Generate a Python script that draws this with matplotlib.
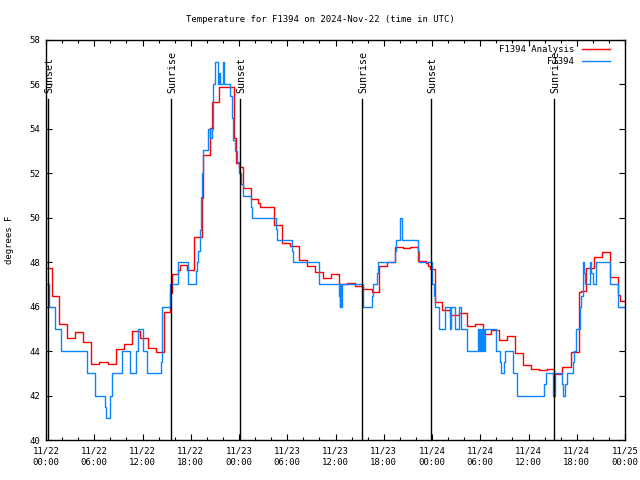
import matplotlib
matplotlib.use('Agg')
import matplotlib.pyplot as plt
from matplotlib.ticker import MultipleLocator

# hours since 2024-11-22 00:00 UTC, value holds until next hour (step post)
analysis_hours = [0.15, 0.7, 1.65, 2.65, 3.65, 4.65, 5.65, 6.65, 7.65, 8.65, 9.65, 10.65,
                  11.65, 12.65, 13.65, 14.65, 15.42, 15.65, 16.45, 16.65, 17.5, 18.45,
                  19.36, 19.56, 20.4, 20.6, 21.55, 23.42, 23.6, 24.0, 24.5, 25.5, 26.4,
                  26.6, 28.4, 29.4, 30.4, 31.4, 32.4, 33.4, 34.4, 35.4, 36.4, 37.46,
                  38.46, 39.4, 40.5, 41.45, 42.4, 43.4, 44.4, 45.3, 46.3, 47.3, 47.5,
                  47.75, 48.4, 49.3, 50.3, 51.3, 52.3, 53.3, 54.3, 55.3, 56.3, 57.3,
                  58.3, 59.3, 60.3, 61.3, 62.3, 63.17, 64.16, 65.24, 66.24, 66.5, 67.15,
                  68.14, 69.14, 70.13, 71.13, 71.4, 71.95]
analysis_temps = [47.72, 46.5, 45.2, 44.6, 44.85, 44.4, 43.42, 43.5, 43.42, 44.08, 44.3, 44.9,
                  44.58, 44.12, 43.96, 45.76, 46.6, 47.47, 47.65, 47.88, 47.63, 49.15,
                  50.88, 52.83, 54.03, 55.23, 55.9, 53.6, 52.45, 52.3, 51.33, 50.85, 50.65,
                  50.47, 49.66, 48.85, 48.74, 48.1, 47.82, 47.58, 47.3, 47.47, 47.0, 47.05,
                  46.93, 46.78, 46.68, 47.83, 48.0, 48.67, 48.62, 48.67, 48.06, 47.98, 47.83,
                  47.68, 46.2, 45.85, 45.63, 45.7, 45.13, 45.2, 44.75, 44.95, 44.5, 44.7,
                  43.9, 43.38, 43.18, 43.15, 43.2, 42.97, 43.27, 43.98, 46.68, 46.7, 47.72,
                  48.22, 48.48, 47.32, 46.53, 46.27, 46.27]

obs_hours = [0.15, 0.37, 1.16, 1.9, 5.1, 6.1, 7.3, 7.5, 7.9, 8.2, 9.4, 10.5, 11.15, 11.5,
             12.0, 12.6, 14.3, 14.45, 15.4, 16.45, 17.7, 18.65, 18.8, 18.95, 19.1, 19.23,
             19.4, 19.56, 20.2, 20.45, 20.6, 20.8, 21.0, 21.35, 21.55, 21.68, 21.97, 22.13,
             22.88, 23.09, 23.2, 23.5, 23.7, 24.0, 24.25, 24.46, 25.5, 25.66, 28.56, 28.68,
             30.63, 30.76, 33.9, 33.98, 36.47, 36.56, 36.62, 36.67, 36.77, 39.38, 39.46,
             40.58, 40.7, 41.2, 41.3, 43.4, 43.48, 44.0, 44.3, 46.3, 46.4, 47.96, 48.3,
             48.4, 48.9, 49.66, 50.28, 50.4, 50.9, 51.4, 51.65, 52.35, 53.76, 53.85, 53.95,
             54.05, 54.2, 54.3, 54.4, 54.5, 54.59, 55.96, 56.45, 56.58, 56.95, 57.07, 58.1,
             58.6, 61.96, 62.13, 63.0, 63.3, 64.12, 64.25, 64.54, 64.74, 65.57, 65.7, 65.86,
             65.9, 66.4, 66.53, 66.74, 66.8, 66.9, 67.0, 67.64, 67.77, 67.98, 68.4, 70.13,
             71.13, 71.95]
obs_temps = [47, 46, 45, 44, 43, 42, 41.5, 41, 42, 43, 44, 43, 44, 45,
             44, 43, 43.5, 46, 47, 48, 47, 47.6, 48, 48.5, 49.45, 50.95,
             52, 53.05, 54, 53.6, 54, 56, 57, 56, 56.5, 56, 57, 56,
             55.5, 54.5, 53.5, 53, 52.5, 52, 51.5, 51, 50.5, 50, 49.5, 49,
             48.5, 48, 47.5, 47, 46.5, 46, 47, 46, 47, 46.5, 46,
             46.5, 47, 47.5, 48, 48.5, 49, 50, 49, 48.5, 48, 47, 46.5,
             46, 45, 46, 45, 46, 45, 46, 45, 44, 45, 44, 45,
             44, 45, 44, 45, 44, 45, 44, 43.5, 43, 43.5, 44, 43,
             42, 42.5, 43, 42, 43, 42.5, 42, 42.5, 43, 43.5, 44, 44.5,
             45, 46, 46.5, 47.5, 48, 47.5, 47, 48, 47.5, 47, 48, 47,
             46, 46]

sunset_hours = [0.25, 24.12, 47.87]
sunrise_hours = [15.54, 39.29, 63.17]

tick_hours = list(range(0, 73, 6))
tick_labels = ['11/22\n00:00', '11/22\n06:00', '11/22\n12:00', '11/22\n18:00',
               '11/23\n00:00', '11/23\n06:00', '11/23\n12:00', '11/23\n18:00',
               '11/24\n00:00', '11/24\n06:00', '11/24\n12:00', '11/24\n18:00',
               '11/25\n00:00']

plt.rcParams['font.family'] = ['DejaVu Sans Mono']
fs = 6.5

fig = plt.figure(figsize=(6.4, 4.8), dpi=100)
ax = fig.add_axes([46 / 640, 40 / 480, 579 / 640, 400 / 480])

ax.step(analysis_hours, analysis_temps, where='post', color='#ff0000', lw=1.0,
        label='F1394 Analysis')
ax.step(obs_hours, obs_temps, where='post', color='#0a84ff', lw=1.0, label='F1394')

for h in sunset_hours:
    ax.plot([h, h], [40, 55.35], color='black', lw=1.0)
    ax.text(h + 0.12, 55.62, 'Sunset', rotation=90, ha='center', va='bottom', fontsize=7.2)
for h in sunrise_hours:
    ax.plot([h, h], [40, 55.35], color='black', lw=1.0)
    ax.text(h + 0.12, 55.62, 'Sunrise', rotation=90, ha='center', va='bottom', fontsize=7.2)

ax.set_xlim(0, 72)
ax.set_ylim(40, 58)
ax.set_xticks(tick_hours)
ax.set_xticklabels(tick_labels, fontsize=fs, linespacing=1.35)
ax.xaxis.set_minor_locator(MultipleLocator(2))
ax.yaxis.set_major_locator(MultipleLocator(2))
ax.tick_params(axis='y', labelsize=fs)
ax.tick_params(which='both', direction='in', top=True, right=True, color='black')
ax.tick_params(which='major', length=4, width=0.8)
ax.tick_params(which='minor', length=2.5, width=0.8)
ax.tick_params(axis='x', pad=5)
ax.tick_params(axis='y', pad=4)
for s in ax.spines.values():
    s.set_linewidth(1.0)

leg = ax.legend(loc='upper right', bbox_to_anchor=(0.974, 0.988), markerfirst=False,
                frameon=False, fontsize=fs, handlelength=3.1, handletextpad=0.9,
                borderpad=0, borderaxespad=0, labelspacing=0.35)

fig.text(0.5, 1 - 20 / 480, 'Temperature for F1394 on 2024-Nov-22 (time in UTC)',
         ha='center', va='center', fontsize=fs)
fig.text(10 / 640, 0.5, 'degrees F', rotation=90, ha='center', va='center', fontsize=fs)

fig.savefig('out.png', dpi=100)
